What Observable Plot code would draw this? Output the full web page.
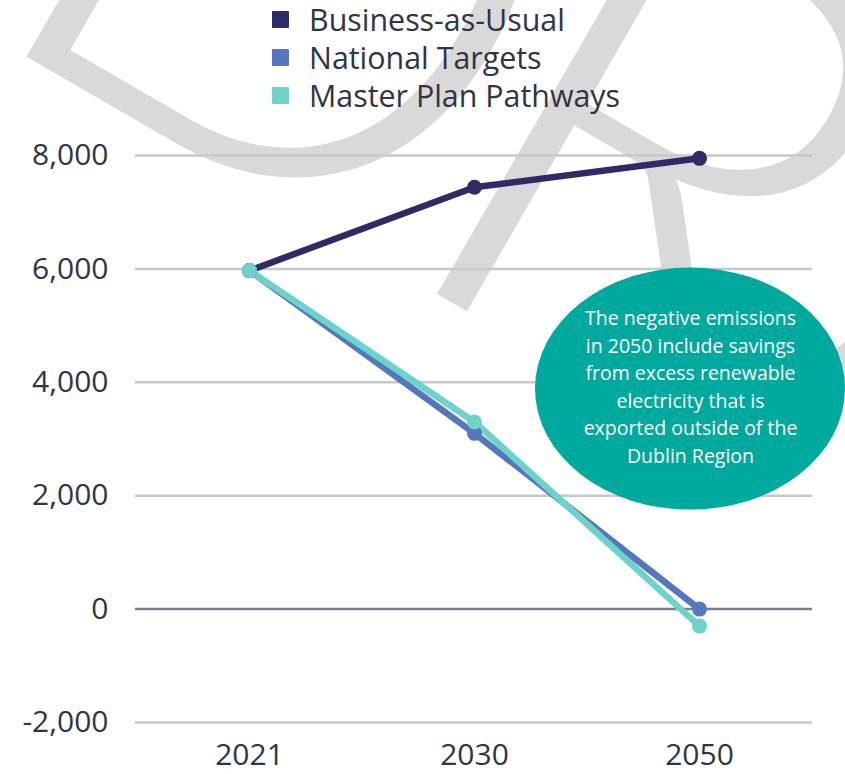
<!DOCTYPE html>
<html>
<head>
<meta charset="utf-8">
<script src="https://cdn.jsdelivr.net/npm/d3@7"></script>
<script src="https://cdn.jsdelivr.net/npm/@observablehq/plot@0.6"></script>
<style>
  html, body { margin: 0; padding: 0; background: #ffffff; }
  #wrap { position: relative; width: 845px; height: 774px; overflow: hidden; }
  #legend { position: absolute; left: 272px; top: 0px; font-family: "Open Sans", sans-serif; font-size: 30.4px; color: #2f3541; }
  .row { height: 38px; display: flex; align-items: center; white-space: nowrap; }
  .sw { width: 17px; height: 17px; margin-right: 20px; border-radius: 1px; }
</style>
</head>
<body>
<div id="wrap"><div id="chart"></div><div id="legend"></div></div>
<script>
// ---- data ----
const years = ["2021", "2030", "2050"];
const seriesNames = ["Business-as-Usual", "National Targets", "Master Plan Pathways"];
const bauValues = [5970, 7440, 7950];
const nationalValues = [5970, 3100, 0];
const masterPlanValues = [5970, 3300, -300];
const seriesColors = ["#2e2b67", "#5677bd", "#6bd3c9"];
const yTicks = [-2000, 0, 2000, 4000, 6000, 8000];
const noteText = "The negative emissions\nin 2050 include savings\nfrom excess renewable\nelectricity that is\nexported outside of the\nDublin Region";
const noteAnchor = {year: "2050", value: 3950};
const watermarkText = "DRAFT";

const valueSets = [bauValues, nationalValues, masterPlanValues];
const rows = valueSets.flatMap((vals, s) => years.map((yr, i) => ({series: seriesNames[s], year: yr, value: vals[i]})));

const fmt = d => (d < 0 ? "-" : "") + d3.format(",")(Math.abs(d));

// watermark (decoration, drawn behind everything)
const watermark = () => {
  const ang = 30, rad = ang * Math.PI / 180;
  const size = 670;
  const u = [Math.cos(rad), Math.sin(rad)];
  const lsb = 0.09 * size;
  const O = [18 - lsb * u[0], 52 - lsb * u[1]];
  const t = d3.create("svg:text")
    .attr("font-family", "Lato, sans-serif").attr("font-weight", 300)
    .attr("font-size", size).attr("fill", "#d9d9d9")
    .attr("text-anchor", "start")
    .attr("letter-spacing", -35)
    .attr("transform", `translate(${O[0]},${O[1]}) rotate(${ang})`)
    .text(watermarkText);
  return t.node();
};

const noteEllipse = (index, scales) => {
  const e = d3.create("svg:ellipse")
    .attr("cx", scales.x(noteAnchor.year) - 9)
    .attr("cy", scales.y(3880))
    .attr("rx", 155).attr("ry", 121)
    .attr("fill", "#00a99d");
  return e.node();
};

const chart = Plot.plot({
  width: 845,
  height: 774,
  marginTop: 155,
  marginBottom: 52,
  marginLeft: 135,
  marginRight: 33,
  style: {fontFamily: "Open Sans, sans-serif", color: "#2f3541", background: "transparent", overflow: "visible"},
  x: {type: "point", domain: years, padding: 0.5},
  y: {domain: [-2000, 8000]},
  color: {domain: seriesNames, range: seriesColors},
  marks: [
    watermark,
    Plot.ruleY(yTicks.filter(d => d !== 0), {stroke: "#c8c8cc", strokeWidth: 2.5}),
    Plot.ruleY([0], {stroke: "#7b7e86", strokeWidth: 2.5}),
    Plot.axisY({ticks: yTicks, tickSize: 0, tickPadding: 27, tickFormat: fmt, fontSize: 30, label: null}),
    Plot.axisX({tickSize: 0, tickPadding: 21, fontSize: 30, label: null}),
    Plot.line(rows, {x: "year", y: "value", z: "series", stroke: "series", strokeWidth: 6.5, strokeLinejoin: "round", strokeLinecap: "round"}),
    Plot.dot(rows, {x: "year", y: "value", fill: "series", r: 7.5}),
    noteEllipse,
    Plot.text([noteAnchor], {x: "year", y: "value", text: () => noteText, dx: -9, fill: "white", fontSize: 19.5, lineHeight: 1.41})
  ]
});
document.getElementById("chart").appendChild(chart);

const legend = d3.select("#legend");
seriesNames.forEach((name, i) => {
  const r = legend.append("div").attr("class", "row");
  r.append("div").attr("class", "sw").style("background", seriesColors[i]);
  r.append("span").text(name);
});
</script>
</body>
</html>
